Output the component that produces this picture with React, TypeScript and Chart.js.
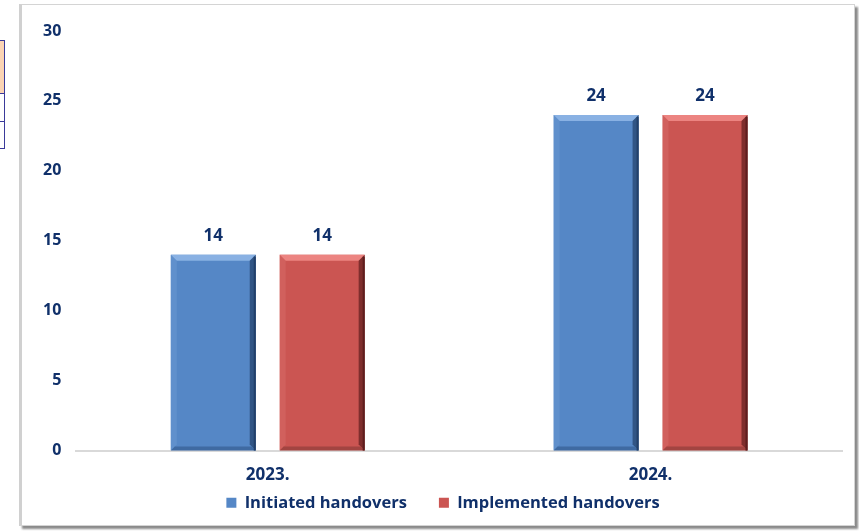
import React, { useEffect, useRef } from "react";
import { Chart, registerables } from "chart.js";

Chart.register(...registerables);

const categories = ["2023.", "2024."];
const initiated = [14, 24];
const implemented = [14, 24];
const seriesNames = ["Initiated handovers", "Implemented handovers"];
const yMax = 30;
const yStep = 5;

const NAVY = "#10306a";
const FONT = "'Open Sans', Lato, sans-serif";
const LEGEND_PAD = 32;

const bevelColors: Record<string, { top: string; left: string; right: string; bottom: string }> = {
  "#5587c6": { top: "#8fb6e6", left: "#6b99d2", right: "#22406a", bottom: "#3a6399" },
  "#cb5552": { top: "#f08a86", left: "#d86b68", right: "#5e1e1e", bottom: "#97403d" },
};

const layoutPlugin = {
  id: "legendPlacement",
  afterInit(chart: any) {
    const lg = chart.legend;
    if (lg && !lg.__wrapped) {
      const orig = lg.fit.bind(lg);
      lg.fit = function () {
        orig();
        this.height = 25;
      };
      lg.__wrapped = true;
    }
  },
  afterLayout(chart: any) {
    const lg = chart.legend;
    const x = chart.scales.x;
    if (lg && x) {
      lg.left += 8;
      lg.right += 8;
      lg.top = x.top + 12;
      lg.height = 80;
      lg.bottom = lg.top + 80;
    }
  },
};

const bevelPlugin = {
  id: "bevel",
  afterDatasetsDraw(chart: any) {
    const ctx = chart.ctx;
    chart.data.datasets.forEach((ds: any, di: number) => {
      const meta = chart.getDatasetMeta(di);
      const c = bevelColors[ds.backgroundColor];
      if (!c) return;
      meta.data.forEach((bar: any) => {
        const { x, y, base, width } = bar.getProps(["x", "y", "base", "width"], true);
        const l = x - width / 2;
        const r = x + width / 2;
        const t = y;
        const b = base;
        const e = 6;
        ctx.save();
        const poly = (pts: number[][], col: string, alpha: number) => {
          ctx.beginPath();
          ctx.moveTo(pts[0][0], pts[0][1]);
          for (let i = 1; i < pts.length; i++) ctx.lineTo(pts[i][0], pts[i][1]);
          ctx.closePath();
          ctx.globalAlpha = alpha;
          ctx.fillStyle = col;
          ctx.fill();
        };
        poly([[l, t], [r, t], [r - e, t + e], [l + e, t + e]], c.top, 0.9);
        poly([[l, t], [l + e, t + e], [l + e, b - e], [l, b]], c.left, 0.5);
        poly([[r, t], [r, b], [r - e, b - e], [r - e, t + e]], c.right, 0.7);
        poly([[l, b], [l + 4, b - 4], [r - 4, b - 4], [r, b]], c.bottom, 0.8);
        ctx.globalAlpha = 1;
        ctx.fillStyle = c.right;
        ctx.fillRect(r - 2, t + 2, 2, b - t - 2);
        ctx.restore();
      });
    });
  },
};

const labelPlugin = {
  id: "valueLabels",
  afterDatasetsDraw(chart: any) {
    const ctx = chart.ctx;
    ctx.save();
    ctx.font = `bold 17px ${FONT}`;
    ctx.fillStyle = NAVY;
    ctx.textAlign = "center";
    ctx.textBaseline = "middle";
    chart.data.datasets.forEach((ds: any, di: number) => {
      const meta = chart.getDatasetMeta(di);
      meta.data.forEach((bar: any, i: number) => {
        ctx.fillText(String(ds.data[i]), bar.x, bar.y - 19);
      });
    });
    ctx.restore();
  },
};

export default function App() {
  const ref = useRef<HTMLCanvasElement | null>(null);
  useEffect(() => {
    document.body.style.margin = "0";
    const chart = new Chart(ref.current as HTMLCanvasElement, {
      type: "bar",
      data: {
        labels: categories,
        datasets: [
          { label: seriesNames[0], data: initiated, backgroundColor: "#5587c6", borderWidth: 0 },
          { label: seriesNames[1], data: implemented, backgroundColor: "#cb5552", borderWidth: 0 },
        ],
      },
      options: {
        animation: false,
        responsive: false,
        maintainAspectRatio: false,
        datasets: { bar: { categoryPercentage: 0.569, barPercentage: 0.78 } },
        layout: { padding: { left: 6, right: 10, top: 26, bottom: 0 } },
        scales: {
          x: {
            grid: { display: false, drawTicks: false },
            border: { display: true, color: "#d9d9d9", width: 2 },
            ticks: { color: NAVY, font: { family: FONT, size: 17, weight: "bold" }, padding: 14 },
          },
          y: {
            min: 0,
            max: yMax,
            grid: { display: false, drawTicks: false },
            border: { display: false },
            ticks: { stepSize: yStep, color: NAVY, font: { family: FONT, size: 16, weight: "bold" }, padding: 15 },
          },
        },
        plugins: {
          legend: {
            position: "bottom",
            labels: {
              color: NAVY,
              font: { family: FONT, size: 16.5, weight: "bold" },
              boxWidth: 10,
              boxHeight: 10,
              padding: LEGEND_PAD,
            },
          },
          tooltip: { enabled: false },
        },
      },
      plugins: [layoutPlugin, bevelPlugin, labelPlugin],
    });
    return () => chart.destroy();
  }, []);

  return (
    <div style={{ position: "relative", width: 859, height: 531, background: "#fff", overflow: "hidden" }}>
      <div style={{ position: "absolute", left: -2, top: 40, width: 7, height: 54, background: "#fbd4b4", border: "1px solid #3a3a9a", boxSizing: "border-box" }} />
      <div style={{ position: "absolute", left: -2, top: 94, width: 7, height: 28, background: "#fff", border: "1px solid #3a3a9a", borderTop: "none", boxSizing: "border-box" }} />
      <div style={{ position: "absolute", left: -2, top: 121, width: 7, height: 28, background: "#fff", border: "1px solid #3a3a9a", boxSizing: "border-box" }} />
      <div
        style={{
          position: "absolute",
          left: 19,
          top: 4,
          width: 836,
          height: 522,
          border: "1px solid #d4d4d4",
          borderLeft: "3px solid #d0d0d0",
          boxShadow: "3px 3px 2px #8a8a8a",
          boxSizing: "border-box",
          background: "#fff",
        }}
      >
        <canvas ref={ref} width={830} height={519} style={{ display: "block" }} />
      </div>
    </div>
  );
}
